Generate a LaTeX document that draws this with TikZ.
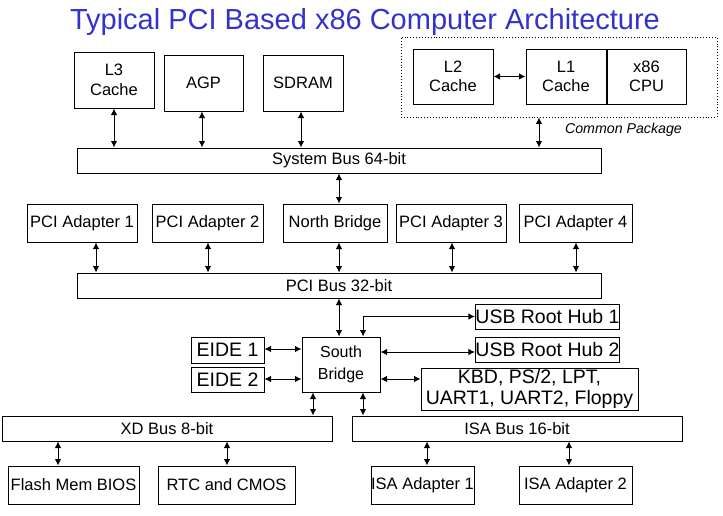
\documentclass[tikz,border=0pt]{standalone}
\usepackage{fontspec}
\setmainfont{Liberation Sans}
\usetikzlibrary{arrows.meta}
\definecolor{titleblue}{RGB}{51,51,204}
\begin{document}
\begin{tikzpicture}[x=1pt,y=1pt,
  box/.style={draw=black,line width=1pt,inner sep=0pt,align=center,
    font=\fontsize{16.5}{19.5}\selectfont},
  bigbox/.style={box,font=\fontsize{19.5}{22}\selectfont},
  busbox/.style={box,minimum height=25pt},
  biarrow/.style={line width=1pt,{Latex[length=6.5pt,width=6.5pt]}-{Latex[length=6.5pt,width=6.5pt]}},
  pkgbox/.style={draw=black,line width=0.9pt,dotted}
]
\useasboundingbox (0,0) rectangle (723,-515);
\node[font=\fontsize{29}{32}\selectfont,text=titleblue] (title) at (365,-21.5) {Typical PCI Based x86 Computer Architecture};

% top row
\node[box,minimum width=80pt,minimum height=56pt] (l3) at (114,-80) {L3\\Cache};
\node[box,minimum width=79pt,minimum height=56pt] (agp) at (203.5,-83) {AGP};
\node[box,minimum width=80pt,minimum height=56pt] (sdram) at (303,-83) {SDRAM};

% common package
\node[pkgbox,minimum width=316pt,minimum height=80pt,inner sep=0pt] (pkg) at (559,-77) {};
\node[box,minimum width=80pt,minimum height=55pt] (l2) at (453,-76.5) {L2\\Cache};
\node[box,minimum width=80pt,minimum height=55pt] (l1) at (566,-76.5) {L1\\Cache};
\node[box,minimum width=79pt,minimum height=55pt] (cpu) at (646.5,-76.5) {x86\\CPU};
\node[font=\fontsize{14.2}{16}\selectfont\itshape,inner sep=0pt] (pkglabel) at (623.5,-130) {Common Package};

% system bus
\node[busbox,minimum width=524pt] (sysbus) at (339,-160.5) {System Bus 64-bit};

% PCI row
\node[box,minimum width=110pt,minimum height=38pt] (pa1) at (82,-223) {PCI Adapter 1};
\node[box,minimum width=111pt,minimum height=38pt] (pa2) at (207.5,-223) {PCI Adapter 2};
\node[box,minimum width=104pt,minimum height=38pt] (nb) at (335,-223) {North Bridge};
\node[box,minimum width=110pt,minimum height=38pt] (pa3) at (451,-223) {PCI Adapter 3};
\node[box,minimum width=113pt,minimum height=38pt] (pa4) at (575.5,-223) {PCI Adapter 4};

\node[busbox,minimum width=524pt] (pcibus) at (339,-285.5) {PCI Bus 32-bit};

% south bridge area
\node[box,font=\fontsize{16}{22}\selectfont,minimum width=78pt,minimum height=55pt] (sb) at (341,-364.5) {South\\Bridge};
\node[bigbox,minimum width=143pt,minimum height=25pt] (usb1) at (547.5,-316.5) {USB Root Hub 1};
\node[bigbox,minimum width=143pt,minimum height=25pt] (usb2) at (547.5,-349.5) {USB Root Hub 2};
\node[bigbox,font=\fontsize{19.5}{21}\selectfont,minimum width=217pt,minimum height=42pt] (kbd) at (529.5,-389) {KBD, PS/2, LPT,\\UART1, UART2, Floppy};
\node[bigbox,minimum width=73pt,minimum height=26pt] (eide1) at (227.5,-350) {EIDE 1};
\node[bigbox,minimum width=73pt,minimum height=25pt] (eide2) at (227.5,-379.5) {EIDE 2};

% lower buses
\node[busbox,minimum width=330pt] (xdbus) at (167,-428.5) {XD Bus 8-bit};
\node[busbox,minimum width=330pt] (isabus) at (517,-428.5) {ISA Bus 16-bit};

\node[box,minimum width=131pt,minimum height=38pt] (flash) at (73.5,-485) {Flash Mem BIOS};
\node[box,minimum width=137pt,minimum height=38pt] (rtc) at (226.5,-485) {RTC and CMOS};
\node[box,minimum width=103pt,minimum height=38pt] (isa1) at (422.5,-485) {ISA Adapter 1};
\node[box,minimum width=113pt,minimum height=38pt] (isa2) at (575.5,-485) {ISA Adapter 2};

% connectors: top
\draw[biarrow] (l3.south) -- (l3.south |- sysbus.north);
\draw[biarrow] ([xshift=-1.5pt]agp.south) -- ([xshift=-1.5pt]agp.south |- sysbus.north);
\draw[biarrow] ([xshift=-2pt]sdram.south) -- ([xshift=-2pt]sdram.south |- sysbus.north);
\draw[biarrow] (l2.east) -- (l1.west);
\draw[biarrow] ([xshift=-20pt]pkg.south) -- ([xshift=-20pt]pkg.south |- sysbus.north);

% system bus to north bridge
\draw[biarrow] ([xshift=4pt]nb.north |- sysbus.south) -- ([xshift=4pt]nb.north);

% PCI row to PCI bus
\draw[biarrow] ([xshift=14pt]pa1.south) -- ([xshift=14pt]pa1.south |- pcibus.north);
\draw[biarrow] ([xshift=0.5pt]pa2.south) -- ([xshift=0.5pt]pa2.south |- pcibus.north);
\draw[biarrow] ([xshift=4pt]nb.south) -- ([xshift=4pt]nb.south |- pcibus.north);
\draw[biarrow] ([xshift=1pt]pa3.south) -- ([xshift=1pt]pa3.south |- pcibus.north);
\draw[biarrow] ([xshift=0.5pt]pa4.south) -- ([xshift=0.5pt]pa4.south |- pcibus.north);

% PCI bus to south bridge
\draw[biarrow] ([xshift=-2pt]sb.north |- pcibus.south) -- ([xshift=-2pt]sb.north);
\draw[biarrow] ([xshift=22pt]sb.north) |- (usb1.west);
\draw[biarrow] (sb.east |- 0,-352) -- (usb2.west |- 0,-352);
\draw[biarrow] (sb.east |- 0,-379) -- (kbd.west |- 0,-379);
\draw[biarrow] (eide1.east |- 0,-349) -- (sb.west |- 0,-349);
\draw[biarrow] (eide2.east |- 0,-379) -- (sb.west |- 0,-379);

% south bridge to lower buses
\draw[biarrow] ([xshift=-28pt]sb.south) -- ([xshift=-28pt]sb.south |- xdbus.north);
\draw[biarrow] ([xshift=22pt]sb.south) -- ([xshift=22pt]sb.south |- isabus.north);

% lower buses to devices
\draw[biarrow] ([xshift=-15.5pt]flash.north |- xdbus.south) -- ([xshift=-15.5pt]flash.north);
\draw[biarrow] ([xshift=0.5pt]rtc.north |- xdbus.south) -- ([xshift=0.5pt]rtc.north);
\draw[biarrow] ([xshift=4.5pt]isa1.north |- isabus.south) -- ([xshift=4.5pt]isa1.north);
\draw[biarrow] ([xshift=-6.5pt]isa2.north |- isabus.south) -- ([xshift=-6.5pt]isa2.north);
\end{tikzpicture}
\end{document}
